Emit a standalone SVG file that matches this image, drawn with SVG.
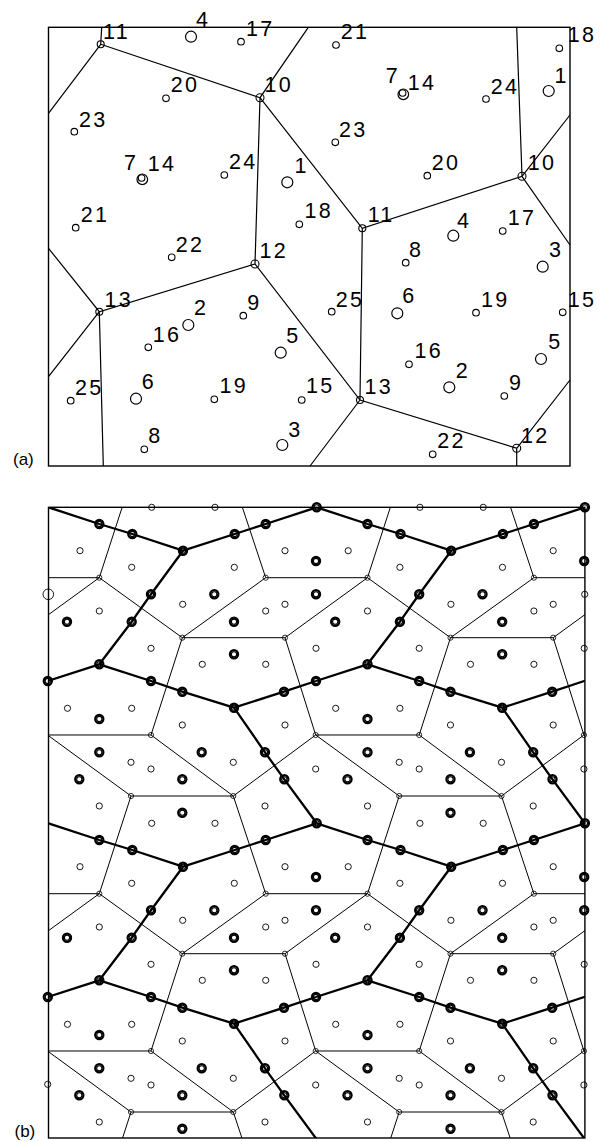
<svg xmlns="http://www.w3.org/2000/svg" width="600" height="1142" viewBox="0 0 600 1142">
<style>
.bx{fill:none;stroke:#000;stroke-width:1.4}
.ln{fill:none;stroke:#000;stroke-width:1.2}
.nd{fill:none;stroke:#000;stroke-width:1.1}
.sm{fill:none;stroke:#000;stroke-width:1.1}
.lg{fill:none;stroke:#000;stroke-width:1.2}
.lb{font-family:"Liberation Sans",Arial,sans-serif;font-size:21.5px;letter-spacing:2.3px;fill:#000}
.pl{font-family:"Liberation Sans",Arial,sans-serif;font-size:17px;fill:#000}
.tl{fill:none;stroke:#000;stroke-width:1}
.bl{fill:none;stroke:#000;stroke-width:2.3;stroke-linejoin:round}
.tn{fill:none;stroke:#000;stroke-width:0.8}
.ta{fill:none;stroke:#000;stroke-width:0.9}
</style>
<defs>
<g id="bA" fill="none" stroke="#000"><circle r="4.1" stroke-width="2.2"/><circle r="2.6" stroke-width="1.1"/></g>
<clipPath id="clipB"><rect x="48.5" y="507.3" width="536.4" height="630.7"/></clipPath>
<g id="cellLines">
<path class="tl" d="M50.8,70.4 L133.8,130.4 L217.2,70.4 L319,70.4 M50.8,70.4 L-31.7,130.4 M133.8,130.4 L236.5,130.4 L267.2,227.7 M133.8,130.4 L102.5,227.7 L184.8,288.7 L267.2,227.7 M102.5,227.7 L-1,227.7 L82.5,288.7 L184.8,288.7 M82.5,288.7 L50.8,386.4 M184.8,288.7 L217.2,386.4"/>
<path class="bl" d="M0,0 L50.8,16.7 L83.8,26.7 L134.5,43.4 L186.2,26.7 L217.2,16.7 L268.2,0 M134.5,43.4 L102.5,87 L83.2,114.4 L50.8,157 M-0.7,173.7 L50.8,157 L102.5,173.7 L133.8,184.4 L185.5,200.4 L235.5,184.4 L267.5,173.7 M185.5,200.4 L216.5,245 L235.8,272 L268.2,316"/>
</g>
<g id="cellAtoms">
<circle class="tn" cx="50.8" cy="70.4" r="2.6"/>
<circle class="tn" cx="217.2" cy="70.4" r="2.6"/>
<circle class="tn" cx="133.8" cy="130.4" r="2.6"/>
<circle class="tn" cx="236.5" cy="130.4" r="2.6"/>
<circle class="tn" cx="102.5" cy="227.7" r="2.6"/>
<circle class="tn" cx="267.2" cy="227.7" r="2.6"/>
<circle class="tn" cx="82.5" cy="288.7" r="2.6"/>
<circle class="tn" cx="184.8" cy="288.7" r="2.6"/>
<use href="#bA" x="268.2" y="0"/>
<use href="#bA" x="50.8" y="16.7"/>
<use href="#bA" x="83.8" y="26.7"/>
<use href="#bA" x="134.5" y="43.4"/>
<use href="#bA" x="186.2" y="26.7"/>
<use href="#bA" x="217.2" y="16.7"/>
<use href="#bA" x="102.5" y="87"/>
<use href="#bA" x="83.2" y="114.4"/>
<use href="#bA" x="50.8" y="157"/>
<use href="#bA" x="-0.7" y="173.7"/>
<use href="#bA" x="102.5" y="173.7"/>
<use href="#bA" x="133.8" y="184.4"/>
<use href="#bA" x="185.5" y="200.4"/>
<use href="#bA" x="235.5" y="184.4"/>
<use href="#bA" x="216.5" y="245"/>
<use href="#bA" x="235.8" y="272"/>
<circle class="ta" cx="103.2" cy="0" r="3.1"/>
<circle class="ta" cx="166.5" cy="0" r="3.1"/>
<circle class="ta" cx="31.5" cy="43.4" r="3.1"/>
<circle class="ta" cx="83.2" cy="60" r="3.1"/>
<circle class="ta" cx="185.8" cy="60" r="3.1"/>
<circle class="ta" cx="236.5" cy="43.4" r="3.1"/>
<circle class="ta" cx="134.2" cy="97" r="3.1"/>
<circle class="ta" cx="50.8" cy="103.7" r="3.1"/>
<circle class="ta" cx="217.2" cy="103.7" r="3.1"/>
<circle class="ta" cx="236.5" cy="97" r="3.1"/>
<circle class="ta" cx="267.5" cy="141" r="3.1"/>
<circle class="ta" cx="102.5" cy="141" r="3.1"/>
<circle class="ta" cx="153.8" cy="157" r="3.1"/>
<circle class="ta" cx="217.2" cy="157" r="3.1"/>
<circle class="ta" cx="19" cy="201" r="3.1"/>
<circle class="ta" cx="83.2" cy="201" r="3.1"/>
<circle class="ta" cx="133.8" cy="217.7" r="3.1"/>
<circle class="ta" cx="236.5" cy="217.7" r="3.1"/>
<circle class="ta" cx="82.5" cy="255" r="3.1"/>
<circle class="ta" cx="102.5" cy="261.7" r="3.1"/>
<circle class="ta" cx="184.8" cy="255" r="3.1"/>
<circle class="ta" cx="267.2" cy="261.7" r="3.1"/>
<circle class="ta" cx="50.8" cy="298.7" r="3.1"/>
<circle class="ta" cx="216.5" cy="298.7" r="3.1"/>
<use href="#bA" x="267.5" y="53.7"/>
<use href="#bA" x="165.8" y="87"/>
<use href="#bA" x="18.5" y="114.4"/>
<use href="#bA" x="185.5" y="114.4"/>
<use href="#bA" x="185.5" y="147"/>
<use href="#bA" x="50.8" y="211.7"/>
<use href="#bA" x="50.8" y="245"/>
<use href="#bA" x="153.2" y="245"/>
<use href="#bA" x="30.8" y="272"/>
<use href="#bA" x="133.8" y="272"/>
<use href="#bA" x="133.8" y="305.4"/>
</g>
</defs>

<g id="panel-a">
<rect class="bx" x="48.5" y="27.3" width="521.5" height="438.7"/>
<g id="a-edges">
<path class="ln" d="M100.7,44.3 L101.7,27.3 M100.7,44.3 L48.5,113.3 M100.7,44.3 L260,97.7 L308.3,27.3 M260,97.7 L255,264 M260,97.7 L362.3,228.3 L522,176.3 L516.7,27.3 M522,176.3 L570,115 M522,176.3 L570,245 M362.3,228.3 L360,400 M48.5,248.3 L99.3,311.7 L255,264 L360,400 L516.7,448.3 L516.7,466 M99.3,311.7 L48.5,376.7 M99.3,311.7 L103.3,466 M516.7,448.3 L570,380 M360,400 L310,466"/>
</g>
<g id="a-vertices">
<circle class="nd" cx="100.7" cy="44.3" r="3.5"/>
<circle class="nd" cx="260" cy="97.7" r="4"/>
<circle class="nd" cx="255" cy="264" r="4"/>
<circle class="nd" cx="99.3" cy="311.7" r="3.5"/>
<circle class="nd" cx="362.3" cy="228.3" r="3.5"/>
<circle class="nd" cx="522" cy="176.3" r="4"/>
<circle class="nd" cx="360" cy="400" r="3.5"/>
<circle class="nd" cx="516.7" cy="448.3" r="4"/>
</g>
<g id="a-atoms">
<circle class="lg" cx="191" cy="36.7" r="5.5"/>
<circle class="sm" cx="241" cy="41.7" r="3.3"/>
<circle class="sm" cx="166" cy="98.3" r="3.3"/>
<circle class="sm" cx="74.3" cy="131.7" r="3.3"/>
<circle class="lg" cx="142.3" cy="179.3" r="5.3"/>
<circle class="sm" cx="141.6" cy="178" r="3.3"/>
<circle class="sm" cx="224.3" cy="175" r="3.3"/>
<circle class="lg" cx="287.3" cy="182.3" r="5.5"/>
<circle class="sm" cx="299.3" cy="224.3" r="3.3"/>
<circle class="sm" cx="75.7" cy="227.7" r="3.3"/>
<circle class="sm" cx="171.7" cy="257.3" r="3.3"/>
<circle class="lg" cx="188.3" cy="325" r="5.5"/>
<circle class="sm" cx="243.3" cy="315.7" r="3.3"/>
<circle class="sm" cx="148.3" cy="347.3" r="3.3"/>
<circle class="lg" cx="280.7" cy="352.7" r="5.5"/>
<circle class="sm" cx="70.7" cy="400.7" r="3.3"/>
<circle class="lg" cx="136" cy="398.7" r="5.5"/>
<circle class="sm" cx="214.3" cy="399.3" r="3.3"/>
<circle class="sm" cx="301.7" cy="400" r="3.3"/>
<circle class="sm" cx="144.3" cy="449.3" r="3.3"/>
<circle class="lg" cx="282.3" cy="445" r="5.5"/>
<circle class="sm" cx="336" cy="45" r="3.3"/>
<circle class="lg" cx="403.3" cy="94.3" r="5.3"/>
<circle class="sm" cx="402.6" cy="93" r="3.3"/>
<circle class="sm" cx="486" cy="99" r="3.3"/>
<circle class="lg" cx="548.7" cy="91" r="5.5"/>
<circle class="sm" cx="559.3" cy="48.3" r="3.3"/>
<circle class="sm" cx="335.3" cy="142.3" r="3.3"/>
<circle class="sm" cx="427.3" cy="175.7" r="3.3"/>
<circle class="lg" cx="453.3" cy="235.7" r="5.5"/>
<circle class="sm" cx="502.7" cy="231" r="3.3"/>
<circle class="sm" cx="405.7" cy="262.7" r="3.3"/>
<circle class="lg" cx="542.7" cy="266.7" r="5.5"/>
<circle class="sm" cx="331.7" cy="311.7" r="3.3"/>
<circle class="lg" cx="397.3" cy="313.3" r="5.5"/>
<circle class="sm" cx="476" cy="312.7" r="3.3"/>
<circle class="sm" cx="562.7" cy="312.3" r="3.3"/>
<circle class="sm" cx="409" cy="364.3" r="3.3"/>
<circle class="lg" cx="541" cy="359" r="5.5"/>
<circle class="lg" cx="449.3" cy="387.3" r="5.5"/>
<circle class="sm" cx="504.3" cy="396" r="3.3"/>
<circle class="sm" cx="432.7" cy="454.3" r="3.3"/>
</g>
<g id="a-labels" class="lb">
<text x="103" y="39">11</text>
<text x="196" y="26.7">4</text>
<text x="246" y="35.7">17</text>
<text x="170.7" y="92">20</text>
<text x="264.4" y="91.7">10</text>
<text x="79" y="126.5">23</text>
<text x="124" y="170">7</text>
<text x="147.7" y="171">14</text>
<text x="229" y="169">24</text>
<text x="294.4" y="173">1</text>
<text x="304.4" y="218">18</text>
<text x="80.7" y="221.5">21</text>
<text x="175.7" y="252">22</text>
<text x="259.4" y="258">12</text>
<text x="104.4" y="306.5">13</text>
<text x="194" y="315">2</text>
<text x="247.3" y="310">9</text>
<text x="152.7" y="341.5">16</text>
<text x="286.3" y="343">5</text>
<text x="75" y="395">25</text>
<text x="141.7" y="389">6</text>
<text x="219.4" y="393">19</text>
<text x="306" y="393">15</text>
<text x="148.3" y="443">8</text>
<text x="288.3" y="436.5">3</text>
<text x="340.7" y="39">21</text>
<text x="567.7" y="41.5">18</text>
<text x="385.7" y="83">7</text>
<text x="407.7" y="89.5">14</text>
<text x="490.7" y="93.7">24</text>
<text x="554.4" y="83">1</text>
<text x="339" y="136.5">23</text>
<text x="431.7" y="169.7">20</text>
<text x="527.7" y="170">10</text>
<text x="367.7" y="222">11</text>
<text x="457" y="228">4</text>
<text x="507.7" y="224.7">17</text>
<text x="409" y="256.5">8</text>
<text x="549" y="256.5">3</text>
<text x="335.7" y="306.5">25</text>
<text x="402.3" y="303">6</text>
<text x="481" y="306.5">19</text>
<text x="567.7" y="306.5">15</text>
<text x="364.4" y="393.7">13</text>
<text x="414.4" y="358">16</text>
<text x="548.3" y="349">5</text>
<text x="455.7" y="378">2</text>
<text x="509" y="389.7">9</text>
<text x="521" y="442.5">12</text>
<text x="437.3" y="448">22</text>
</g>
<text class="pl" x="13" y="464.5">(a)</text>
</g>

<g id="panel-b">
<g id="b-edges" clip-path="url(#clipB)">
<use href="#cellLines" transform="translate(-219.7,191.3)"/>
<use href="#cellLines" transform="translate(48.5,191.3)"/>
<use href="#cellLines" transform="translate(316.7,191.3)"/>
<use href="#cellLines" transform="translate(584.9,191.3)"/>
<use href="#cellLines" transform="translate(-219.7,507.3)"/>
<use href="#cellLines" transform="translate(48.5,507.3)"/>
<use href="#cellLines" transform="translate(316.7,507.3)"/>
<use href="#cellLines" transform="translate(584.9,507.3)"/>
<use href="#cellLines" transform="translate(-219.7,823.3)"/>
<use href="#cellLines" transform="translate(48.5,823.3)"/>
<use href="#cellLines" transform="translate(316.7,823.3)"/>
<use href="#cellLines" transform="translate(584.9,823.3)"/>
</g>
<rect class="bx" x="48.5" y="507.3" width="536.4" height="630.7"/>
<g id="b-points">
<use href="#cellAtoms" transform="translate(48.5,507.3)"/>
<use href="#cellAtoms" transform="translate(316.7,507.3)"/>
<use href="#cellAtoms" transform="translate(48.5,823.3)"/>
<use href="#cellAtoms" transform="translate(316.7,823.3)"/>
<use href="#bA" x="316" y="594.3"/>
<use href="#bA" x="316" y="910.3"/>
<use href="#bA" x="584.2" y="910.3"/>
<circle class="ta" cx="584.7" cy="594.3" r="3.1"/>
<circle class="ta" cx="48.3" cy="594.3" r="5.3"/>
<circle class="ta" cx="47.7" cy="1084.3" r="3.1"/>
</g>
<text class="pl" x="14.5" y="1136.5">(b)</text>
</g>
</svg>
